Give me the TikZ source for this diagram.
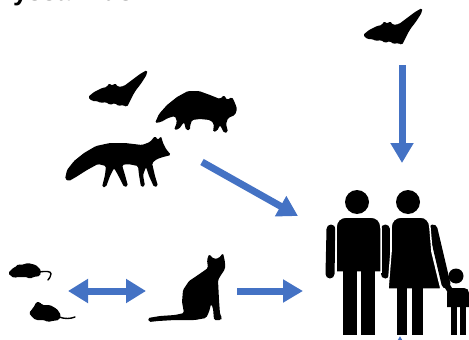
\documentclass[tikz,border=0pt]{standalone}
\usepackage{fontspec}
\newfontfamily\headfont{Liberation Sans}
\usetikzlibrary{arrows.meta}
\definecolor{flowblue}{RGB}{68,114,196}
\tikzset{
  flow/.style={draw=flowblue, line width=7pt, -{Triangle[length=20pt,width=22pt]}},
  twoway/.style={draw=flowblue, line width=7pt,
    {Triangle[length=20pt,width=23pt]}-{Triangle[length=20pt,width=23pt]}},
  silhouette/.style={fill=black, rounded corners=1.5pt},
  limb/.style={draw=black, line width=9pt, line cap=round},
  body/.style={fill=black, draw=white, line width=1.5pt},
  tailline/.style={draw=black, line width=1.4pt, line cap=round},
  bat/.pic={
    \fill[silhouette] (0,27) -- (6,22) -- (14,18) -- (19,17) -- (21,13) -- (24,16)
      -- (27,13) -- (30,17) -- (36,16) -- (44,10) -- (52,4) -- (59,0) -- (59,4)
      -- (56,9) -- (52,15) -- (48,20) -- (45,25) -- (42,31) -- (39,37) -- (35,35)
      -- (30,36) -- (27,33) -- (22,35) -- (18,32) -- (13,33) -- (9,31) -- (4,31) -- cycle;
  }
}
\begin{document}
\begin{tikzpicture}[x=1pt,y=-1pt]
\useasboundingbox (0,0) rectangle (469,340);
\clip (0,0) rectangle (469,340);

% heading, running off the top edge
\node[anchor=base west, inner sep=0pt, font=\headfont\bfseries\fontsize{26}{28}\selectfont]
  (title) at (-2,1) {Lyssavirus};

% arrow end points
\coordinate (batTail)   at (402,65);
\coordinate (batHead)   at (402,163);
\coordinate (wildTail)  at (202,162);
\coordinate (wildHead)  at (298,216);
\coordinate (rodentEnd) at (68,291);
\coordinate (catLeft)   at (146,291);
\coordinate (catRight)  at (237,291);
\coordinate (humanLeft) at (303,291);
\coordinate (lowTail)   at (400,352);
\coordinate (lowHead)   at (400,336);

% transmission arrows
\draw[flow] (batTail) -- (batHead);
\draw[flow] (wildTail) -- (wildHead);
\draw[twoway] (rodentEnd) -- (catLeft);
\draw[flow] (catRight) -- (humanLeft);
\draw[flow] (lowTail) -- (lowHead);

% bats
\pic at (363,8) {bat};
\pic at (88,70) {bat};

% raccoon
\fill[silhouette] (155,123) -- (159,114) -- (167,105) -- (177,97) -- (188,91)
  -- (199,91) -- (210,95) -- (220,99) -- (224,95) -- (227,100) -- (232,97)
  -- (235,103) -- (237,109) -- (235,115) -- (228,118) -- (226,124) -- (228,132)
  -- (224,133) -- (220,125) -- (217,131) -- (213,132) -- (214,124) -- (210,120)
  -- (200,119) -- (192,120) -- (190,126) -- (190,130) -- (186,130) -- (184,122)
  -- (179,129) -- (174,130) -- (177,122) -- (175,116) -- (168,118) -- (161,122) -- cycle;

% fox
\fill[silhouette] (65,179) -- (67,170) -- (74,161) -- (84,153) -- (96,146)
  -- (110,143) -- (125,143) -- (142,145) -- (150,142) -- (155,136) -- (158,140)
  -- (161,136) -- (163,143) -- (166,149) -- (171,155) -- (163,157) -- (157,159)
  -- (152,163) -- (155,176) -- (158,186) -- (154,187) -- (149,176) -- (146,167)
  -- (143,175) -- (145,186) -- (141,187) -- (139,175) -- (138,166) -- (128,164)
  -- (122,165) -- (125,175) -- (128,186) -- (124,187) -- (118,175) -- (114,168)
  -- (110,176) -- (106,187) -- (102,187) -- (105,175) -- (106,166) -- (98,164)
  -- (87,170) -- (76,177) -- (69,181) -- cycle;

% rats
\fill[silhouette] (8,273) -- (13,268) -- (17,266) -- (18,264) -- (21,265)
  -- (28,263) -- (36,265) -- (41,270) -- (40,276) -- (33,277) -- (30,279)
  -- (27,277) -- (17,277) -- (14,278) -- (11,276) -- cycle;
\draw[tailline] (39,272) .. controls (46,271) and (51,271) .. (51,274)
  .. controls (51,277) and (49,278) .. (48,280);
\fill[silhouette] (29,313) -- (33,308) -- (35,305) -- (36,302) -- (40,302)
  -- (42,305) -- (50,305) -- (57,309) -- (61,315) -- (59,320) -- (52,321)
  -- (48,322) -- (44,320) -- (36,320) -- (33,318) -- cycle;
\draw[tailline] (59,317) .. controls (65,319) and (70,319) .. (75,317);

% cat
\fill[silhouette] (208,268) -- (207,260) -- (209,254) -- (214,259) -- (219,258)
  -- (223,253) -- (225,262) -- (225,269) -- (221,275) -- (218,280) -- (219,300)
  -- (220,314) -- (222,318) -- (221,320) -- (214,320) -- (213,308) -- (211,304)
  -- (209,312) -- (206,318) -- (195,320) -- (175,320) -- (158,321) -- (149,322)
  -- (148,318) -- (160,316) -- (175,315) -- (184,313) -- (182,302) -- (183,290)
  -- (189,281) -- (198,275) -- cycle;

% family: man
\fill (357,202) circle (12);
\draw[limb] (331,229) -- (330,274);
\draw[limb] (385,229) -- (385,274);
\filldraw[body] (336,272) -- (336,228) .. controls (336,221) and (340,217) .. (347,217)
  -- (370,217) .. controls (377,217) and (381,221) .. (381,228) -- (381,272) -- cycle;
\fill (343,268) rectangle (357,335);
\fill (361,268) rectangle (375,335);

% family: woman
\fill (408,202) circle (12);
\draw[limb] (433,229) -- (446,284);
\filldraw[body] (391,252) -- (391,228) .. controls (391,221) and (395,217) .. (402,217)
  -- (420,217) .. controls (426,217) and (430,221) .. (430,228) -- (432,252)
  -- (441,289) -- (388,289) -- cycle;
\fill (397,287) rectangle (407,335);
\fill (412,287) rectangle (423,335);

% family: child
\fill (456,276) circle (7.5);
\draw[limb, line width=6pt] (446,284) -- (451,292);
\fill (447,307) -- (447,293) .. controls (447,290) and (449,288) .. (452,288)
  -- (464,288) .. controls (467,288) and (469,290) .. (469,293) -- (469,307) -- cycle;
\fill (451,305) rectangle (457,335);
\fill (460,305) rectangle (466,335);
\end{tikzpicture}
\end{document}
